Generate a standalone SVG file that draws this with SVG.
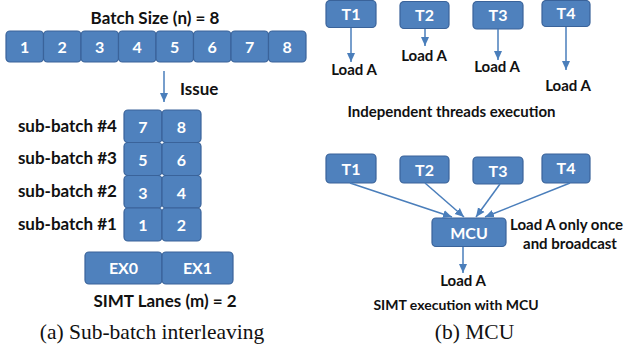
<svg xmlns="http://www.w3.org/2000/svg" width="626" height="349" viewBox="0 0 626 349">
  <style>
    .box { fill: #4F81BD; stroke: #3A639A; stroke-width: 1.2; }
    .num { font-family: Lato, "Open Sans", sans-serif; font-weight: bold; font-size: 16px; fill: #FFFFFF; text-anchor: middle; }
    .lbl { font-family: Lato, "Open Sans", sans-serif; font-weight: bold; fill: #111111; }
    .cap { font-family: "Liberation Serif", serif; font-size: 21.5px; fill: #111111; text-anchor: middle; }
    .wire { stroke: #4A7EBB; stroke-width: 1.5; fill: none; marker-end: url(#head); }
  </style>
  <defs>
    <marker id="head" markerUnits="userSpaceOnUse" markerWidth="10" markerHeight="10" viewBox="0 0 10 10" refX="9" refY="5" orient="auto">
      <path d="M0,1 L9,5 L0,9 Z" fill="#4A7EBB"/>
    </marker>
  </defs>
  <rect width="626" height="349" fill="#FFFFFF"/>

  <!-- (a) batch of requests -->
  <text class="lbl" x="155" y="24" font-size="17" text-anchor="middle">Batch Size (n) = 8</text>
  <g id="batch">
    <g id="b1"><rect class="box" x="6" y="31" width="37.5" height="31" rx="4"/><text class="num" x="24.75" y="53">1</text></g>
    <g id="b2"><rect class="box" x="43.5" y="31" width="37.5" height="31" rx="4"/><text class="num" x="62.25" y="53">2</text></g>
    <g id="b3"><rect class="box" x="81" y="31" width="37.5" height="31" rx="4"/><text class="num" x="99.75" y="53">3</text></g>
    <g id="b4"><rect class="box" x="118.5" y="31" width="37.5" height="31" rx="4"/><text class="num" x="137.25" y="53">4</text></g>
    <g id="b5"><rect class="box" x="156" y="31" width="37.5" height="31" rx="4"/><text class="num" x="174.75" y="53">5</text></g>
    <g id="b6"><rect class="box" x="193.5" y="31" width="37.5" height="31" rx="4"/><text class="num" x="212.25" y="53">6</text></g>
    <g id="b7"><rect class="box" x="231" y="31" width="37.5" height="31" rx="4"/><text class="num" x="249.75" y="53">7</text></g>
    <g id="b8"><rect class="box" x="268.5" y="31" width="37.5" height="31" rx="4"/><text class="num" x="287.25" y="53">8</text></g>
  </g>
  <text class="lbl" x="180" y="95" font-size="17">Issue</text>

  <!-- (a) sub-batches -->
  <g id="subbatches">
    <text class="lbl" x="117" y="132" font-size="17" text-anchor="end">sub-batch #4</text>
    <text class="lbl" x="117" y="164" font-size="17" text-anchor="end">sub-batch #3</text>
    <text class="lbl" x="117" y="197" font-size="17" text-anchor="end">sub-batch #2</text>
    <text class="lbl" x="117" y="230" font-size="17" text-anchor="end">sub-batch #1</text>
    <g id="s7"><rect class="box" x="124" y="110" width="38" height="32.5" rx="4"/><text class="num" x="143" y="133">7</text></g>
    <g id="s8"><rect class="box" x="162" y="110" width="39" height="32.5" rx="4"/><text class="num" x="181.5" y="133">8</text></g>
    <g id="s5"><rect class="box" x="124" y="142.5" width="38" height="33" rx="4"/><text class="num" x="143" y="166">5</text></g>
    <g id="s6"><rect class="box" x="162" y="142.5" width="39" height="33" rx="4"/><text class="num" x="181.5" y="166">6</text></g>
    <g id="s3"><rect class="box" x="124" y="175.5" width="38" height="32.5" rx="4"/><text class="num" x="143" y="199">3</text></g>
    <g id="s4"><rect class="box" x="162" y="175.5" width="39" height="32.5" rx="4"/><text class="num" x="181.5" y="199">4</text></g>
    <g id="s1"><rect class="box" x="124" y="208" width="38" height="33" rx="4"/><text class="num" x="143" y="231">1</text></g>
    <g id="s2"><rect class="box" x="162" y="208" width="39" height="33" rx="4"/><text class="num" x="181.5" y="231">2</text></g>
  </g>

  <!-- (a) SIMT lanes -->
  <g id="ex0"><rect class="box" x="85" y="252" width="77" height="32" rx="4"/><text class="num" x="123.5" y="274">EX0</text></g>
  <g id="ex1"><rect class="box" x="162" y="252" width="71" height="32" rx="4"/><text class="num" x="197.5" y="274">EX1</text></g>
  <text class="lbl" x="165" y="307" font-size="17" text-anchor="middle">SIMT Lanes (m) = 2</text>
  <text class="cap" x="152" y="339">(a) Sub-batch interleaving</text>

  <!-- (b) independent threads -->
  <g id="t1a"><rect class="box" x="326" y="0.5" width="50" height="27" rx="4"/><text class="num" x="351" y="20">T1</text></g>
  <g id="t2a"><rect class="box" x="400" y="1.5" width="49" height="27" rx="4"/><text class="num" x="424.5" y="21">T2</text></g>
  <g id="t3a"><rect class="box" x="473" y="1.5" width="50" height="27.5" rx="4"/><text class="num" x="498" y="21">T3</text></g>
  <g id="t4a"><rect class="box" x="542" y="0.5" width="48" height="26" rx="4"/><text class="num" x="566" y="19">T4</text></g>
  <text class="lbl" x="354" y="75" font-size="15" text-anchor="middle">Load A</text>
  <text class="lbl" x="424" y="61" font-size="15" text-anchor="middle">Load A</text>
  <text class="lbl" x="497" y="72" font-size="15" text-anchor="middle">Load A</text>
  <text class="lbl" x="568" y="91" font-size="15" text-anchor="middle">Load A</text>
  <text class="lbl" x="451.5" y="117" font-size="15" text-anchor="middle">Independent threads execution</text>

  <!-- (b) SIMT with MCU -->
  <g id="t1b"><rect class="box" x="326" y="154" width="50" height="29" rx="4"/><text class="num" x="351" y="175">T1</text></g>
  <g id="t2b"><rect class="box" x="400" y="156" width="49" height="27" rx="4"/><text class="num" x="424.5" y="176">T2</text></g>
  <g id="t3b"><rect class="box" x="473" y="157" width="50" height="27" rx="4"/><text class="num" x="498" y="177">T3</text></g>
  <g id="t4b"><rect class="box" x="542" y="154" width="48" height="29" rx="4"/><text class="num" x="566" y="174">T4</text></g>
  <g id="mcu"><rect class="box" x="432" y="218" width="74" height="28.5" rx="4"/><text class="num" x="469" y="239">MCU</text></g>
  <text class="lbl" x="510" y="230" font-size="15">Load A only once</text>
  <text class="lbl" x="570" y="249" font-size="15" text-anchor="middle">and broadcast</text>
  <text class="lbl" x="463" y="286" font-size="15" text-anchor="middle">Load A</text>
  <text class="lbl" x="456" y="310" font-size="14" text-anchor="middle">SIMT execution with MCU</text>
  <text class="cap" x="474.5" y="339">(b) MCU</text>

  <!-- connectors -->
  <g id="connectors">
    <line class="wire" x1="164" y1="71" x2="164" y2="102"/>
    <line class="wire" x1="351" y1="28" x2="351" y2="62"/>
    <line class="wire" x1="425" y1="29" x2="425" y2="46"/>
    <line class="wire" x1="498" y1="29" x2="498" y2="60"/>
    <line class="wire" x1="566" y1="27" x2="566" y2="70"/>
    <line class="wire" x1="350" y1="183" x2="452" y2="217"/>
    <line class="wire" x1="425" y1="183" x2="464" y2="217"/>
    <line class="wire" x1="500" y1="184" x2="476" y2="217"/>
    <line class="wire" x1="570" y1="183" x2="485" y2="217"/>
    <line class="wire" x1="463" y1="247" x2="463" y2="273"/>
  </g>
</svg>
